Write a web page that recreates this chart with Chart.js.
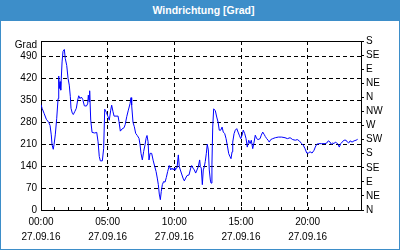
<!DOCTYPE html>
<html>
<head>
<meta charset="utf-8">
<script src="https://cdn.jsdelivr.net/npm/chart.js@4.4.1/dist/chart.umd.min.js"></script>
<style>
  html, body { margin: 0; padding: 0; background: #fff; }
  #wrap { position: relative; width: 400px; height: 250px; background: #fff; overflow: hidden; }
  #c { position: absolute; left: 0; top: 0; }
  #title { position: absolute; left: 0; top: 0; width: 393px; padding-left: 7px; height: 21px; background: #3d8ec9;
           color: #fff; font: bold 10.5px "Liberation Sans", Arial, sans-serif; text-align: center; line-height: 20px; }
  #frame { position: absolute; left: 0; top: 0; width: 398px; height: 248px; border: 1px solid #3d8ec9; pointer-events: none; }
</style>
</head>
<body>
<div id="wrap">
  <canvas id="c" width="400" height="250"></canvas>
  <div id="title">Windrichtung [Grad]</div>
  <div id="frame"></div>
</div>
<script>
// Time of day in hours (27.09.16)
const hours = [
  0.00,0.08,0.23,0.40,0.58,0.68,0.77,0.83,0.92,0.98,1.07,1.18,1.28,1.33,1.37,1.43,1.48,1.58,1.65,1.75,
  1.82,1.93,2.03,2.12,2.20,2.25,2.35,2.42,2.53,2.65,2.75,2.83,2.93,3.02,3.13,3.25,3.40,3.50,3.55,3.60,
  3.65,3.73,3.83,4.03,4.18,4.28,4.37,4.45,4.60,4.70,4.78,4.90,5.03,5.12,5.23,5.30,5.40,5.48,5.78,5.85,
  5.95,6.08,6.23,6.32,6.43,6.55,6.68,6.75,6.80,6.90,7.00,7.10,7.22,7.35,7.43,7.50,7.60,7.70,7.80,7.88,
  7.95,8.03,8.10,8.18,8.30,8.42,8.53,8.63,8.72,8.80,8.87,8.95,9.02,9.10,9.20,9.30,9.40,9.50,9.62,9.73,
  9.83,9.92,10.00,10.05,10.10,10.20,10.30,10.37,10.45,10.55,10.65,10.75,10.85,10.95,11.10,11.23,11.30,11.40,11.50,11.60,
  11.70,11.80,11.90,11.95,12.02,12.10,12.17,12.25,12.32,12.40,12.47,12.55,12.62,12.70,12.75,12.82,12.88,12.95,13.07,13.18,
  13.28,13.37,13.48,13.58,13.67,13.78,13.88,13.97,14.08,14.18,14.25,14.33,14.38,14.48,14.57,14.68,14.78,14.87,14.98,15.08,
  15.17,15.28,15.38,15.47,15.58,15.68,15.77,15.88,15.98,16.07,16.18,16.28,16.43,16.52,16.63,16.73,16.82,16.93,17.03,17.12,
  17.23,17.38,17.57,17.80,18.05,18.30,18.48,18.68,18.88,19.07,19.22,19.37,19.55,19.67,19.80,19.93,20.05,20.18,20.33,20.48,
  20.57,20.68,20.83,21.05,21.30,21.43,21.55,21.68,21.77,21.88,21.98,22.07,22.18,22.28,22.37,22.48,22.58,22.73,22.88,22.98,
  23.08,23.18,23.33,23.48,23.63,23.75
];
// Wind direction in degrees
const direction = [
  337,325,309,290,280,270,240,208,194,210,240,293,356,428,388,410,383,473,507,513,
  484,462,420,399,362,325,309,305,314,325,351,365,356,361,354,333,332,339,367,346,
  381,287,248,246,248,218,171,157,157,197,322,312,298,287,319,335,314,300,300,282,
  252,259,263,274,298,319,340,359,335,280,266,245,238,229,208,181,160,187,208,229,
  238,218,160,181,181,157,139,123,102,81,51,33,59,81,91,89,104,123,142,128,
  134,128,134,128,134,134,176,139,128,115,102,93,102,110,112,134,142,134,128,118,
  128,139,160,139,134,81,128,139,155,181,210,192,128,96,86,144,265,323,318,297,
  281,255,255,265,249,244,228,207,180,170,164,186,217,244,255,260,249,239,228,239,
  255,244,228,201,223,212,223,196,217,239,228,225,228,239,249,242,235,228,223,217,
  225,228,231,233,233,231,228,231,225,223,225,221,212,207,196,182,182,186,182,191,
  201,210,212,212,212,214,221,217,210,214,212,217,214,210,201,212,217,223,223,217,
  214,221,217,221,223,226
];
const xTickHours = [0, 5, 10, 15, 20];
const xTickLabels = [['00:00','27.09.16'],['05:00','27.09.16'],['10:00','27.09.16'],['15:00','27.09.16'],['20:00','27.09.16']];
const leftTicks = [0, 70, 140, 210, 280, 350, 420, 490];
const unitLabel = 'Grad';
const compassLabels = ['N','NE','E','SE','S','SW','W','NW','N','NE','E','SE','S'];

const points = hours.map((h, i) => ({ x: h, y: direction[i] }));
const FONT = { family: '"Liberation Sans", Arial, sans-serif', size: 10 };

const innerTicks = {
  id: 'innerTicks',
  afterDraw(chart) {
    const xs = chart.scales.x;
    const ctx = chart.ctx;
    const bottom = chart.chartArea.bottom;
    ctx.save();
    ctx.strokeStyle = '#000';
    ctx.lineWidth = 1;
    ctx.beginPath();
    for (let h = 0; h <= 24; h++) {
      const px = Math.round(xs.getPixelForValue(h)) + 0.5;
      ctx.moveTo(px, bottom);
      ctx.lineTo(px, bottom - 3);
    }
    ctx.stroke();
    ctx.restore();
  }
};

new Chart(document.getElementById('c'), {
  type: 'line',
  data: {
    datasets: [{
      data: points,
      borderColor: '#0000ff',
      borderWidth: 1,
      pointRadius: 0,
      tension: 0,
      fill: false
    }]
  },
  options: {
    responsive: false,
    animation: false,
    devicePixelRatio: 1,
    layout: { padding: { top: 41, left: 0, right: 0, bottom: 0 } },
    plugins: { legend: { display: false }, tooltip: { enabled: false }, title: { display: false } },
    scales: {
      x: {
        type: 'linear', position: 'bottom', min: 0, max: 24,
        afterBuildTicks: s => { s.ticks = xTickHours.map(v => ({ value: v })); },
        afterFit: s => { s.height = 40; },
        ticks: {
          autoSkip: false, maxRotation: 0, padding: 5, color: '#000',
          font: { ...FONT, lineHeight: 1.5 },
          callback: v => { const i = xTickHours.indexOf(v); return i >= 0 ? xTickLabels[i] : ''; }
        },
        grid: { color: '#000', lineWidth: 1, drawTicks: false },
        border: { color: '#000', width: 1, dash: [4, 3] }
      },
      xTop: {
        type: 'linear', position: 'top', min: 0, max: 24,
        afterFit: s => { s.height = 0; },
        ticks: { display: false },
        grid: { display: false, drawTicks: false },
        border: { display: true, color: '#000', width: 1 }
      },
      y: {
        type: 'linear', position: 'left', min: 0, max: 540,
        afterBuildTicks: s => { s.ticks = leftTicks.map(v => ({ value: v })).concat([{ value: 527 }]); },
        afterFit: s => { s.width = 41; },
        ticks: {
          autoSkip: false, padding: 4, color: '#000', font: FONT,
          callback: v => (v === 527 ? unitLabel : String(v))
        },
        grid: {
          drawTicks: false, lineWidth: 1,
          color: ctx => (ctx.tick && (ctx.tick.value === 0 || ctx.tick.value === 527) ? 'rgba(0,0,0,0)' : '#000')
        },
        border: { color: '#000', width: 1, dash: [4, 3] }
      },
      yRight: {
        type: 'linear', position: 'right', min: 0, max: 540,
        afterBuildTicks: s => { s.ticks = compassLabels.map((_, i) => ({ value: i * 45 })); },
        afterFit: s => { s.width = 39; },
        ticks: {
          autoSkip: false, padding: 2, color: '#000', font: FONT,
          callback: (v, i) => compassLabels[i]
        },
        grid: { drawOnChartArea: false, drawTicks: true, tickLength: 3, tickColor: '#000', color: '#000' },
        border: { color: '#000', width: 1 }
      }
    }
  },
  plugins: [innerTicks]
});
</script>
</body>
</html>
